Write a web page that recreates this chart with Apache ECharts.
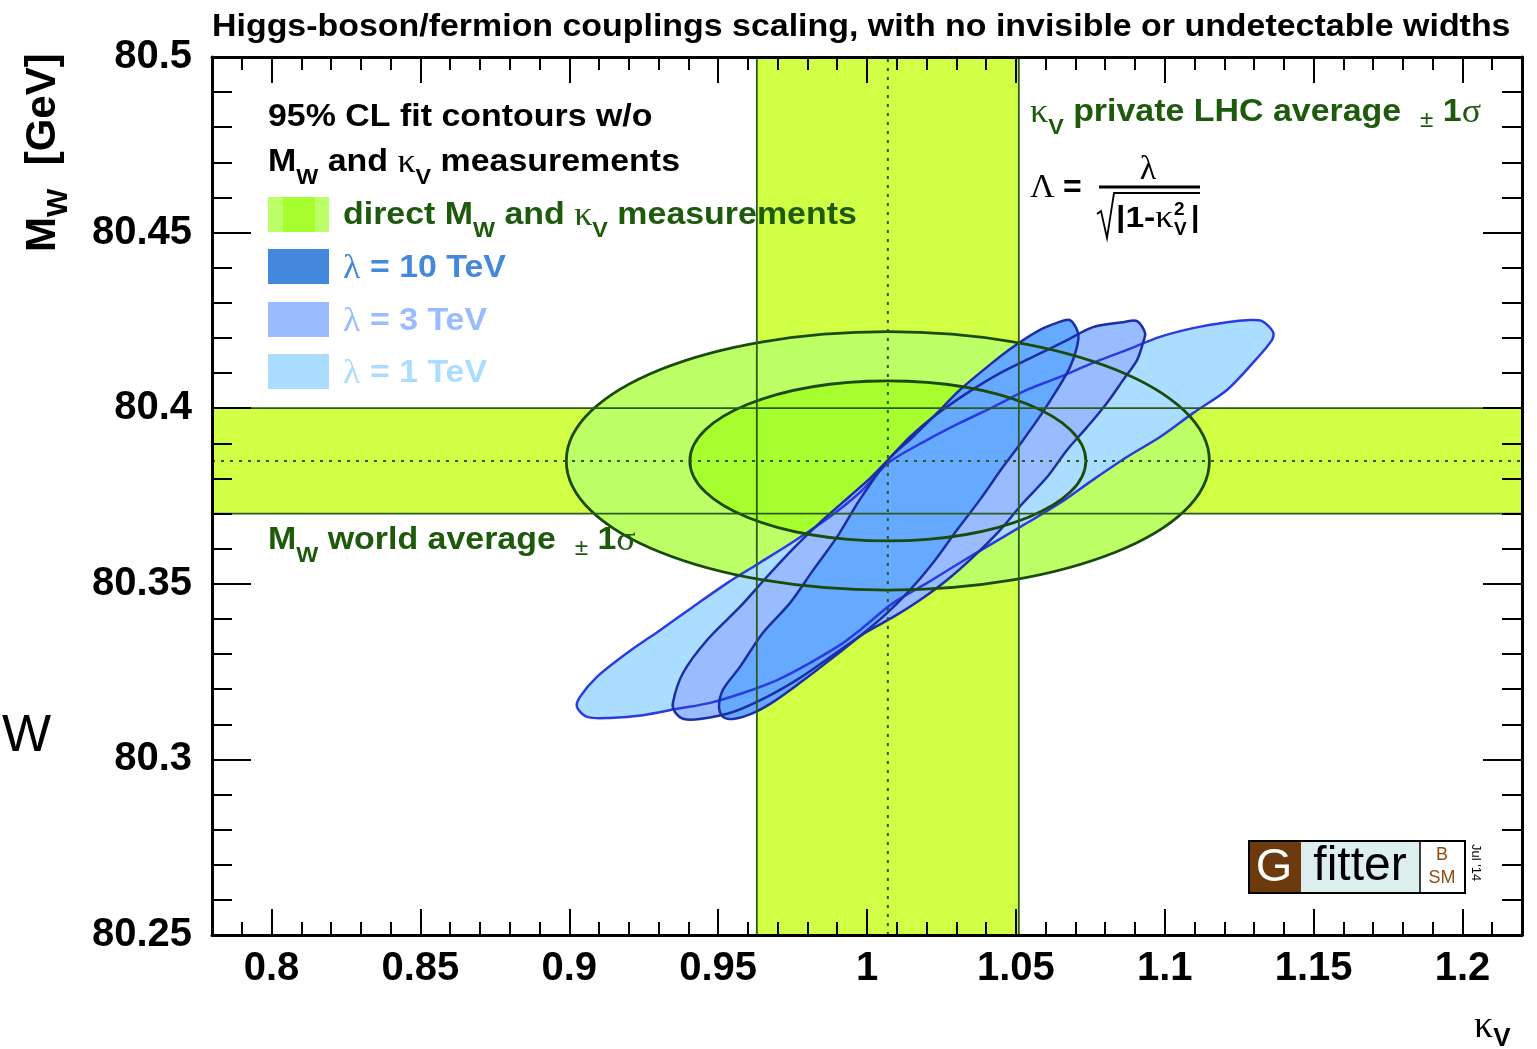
<!DOCTYPE html>
<html>
<head>
<meta charset="utf-8">
<script src="https://cdn.jsdelivr.net/npm/echarts@6/dist/echarts.min.js"></script>
<style>
  html, body { margin: 0; padding: 0; background: #fff; }
  #chart { width: 1537px; height: 1049px; }
</style>
</head>
<body>
<div id="chart"></div>
<script>
// axis ranges
const kvRange = [0.78, 1.22];
const mwRange = [80.25, 80.5];

// kappa_V private LHC average +- 1 sigma
const kvCentral = 1.007;
const kvBand = [0.963, 1.051];
// M_W world average +- 1 sigma
const mwCentral = 80.385;
const mwBand = [80.370, 80.400];

// direct M_W and kappa_V measurements: [kV, MW, kV half width, MW half height]
const directOuter = [1.007, 80.385, 0.108, 0.0368];
const directInner = [1.007, 80.385, 0.0665, 0.0228];

// 95% CL fit contours w/o M_W and kappa_V measurements, [kV, MW]
const lambda10 = [
  [1.0638, 80.4243], [1.0682, 80.4251], [1.0709, 80.4214], [1.0705, 80.4174], [1.0682, 80.4117],
  [1.0638, 80.4052], [1.0588, 80.3986], [1.0524, 80.3909], [1.0457, 80.3833], [1.0379, 80.3739],
  [1.0302, 80.3653], [1.0222, 80.3560], [1.0144, 80.3482], [1.0060, 80.3411], [0.9960, 80.3340],
  [0.9866, 80.3277], [0.9775, 80.3218], [0.9684, 80.3163], [0.9617, 80.3132], [0.9550, 80.3115],
  [0.9516, 80.3121], [0.9503, 80.3149], [0.9516, 80.3198], [0.9573, 80.3263], [0.9650, 80.3360],
  [0.9741, 80.3445], [0.9819, 80.3539], [0.9899, 80.3633], [0.9976, 80.3740], [1.0071, 80.3853],
  [1.0154, 80.3918], [1.0235, 80.3986], [1.0312, 80.4052], [1.0403, 80.4117], [1.0490, 80.4174],
  [1.0581, 80.4223]
];
const lambda3 = [
  [1.0860, 80.4245], [1.0907, 80.4248], [1.0934, 80.4214], [1.0927, 80.4186], [1.0907, 80.4137],
  [1.0860, 80.4080], [1.0806, 80.4015], [1.0739, 80.3946], [1.0672, 80.3881], [1.0605, 80.3804],
  [1.0524, 80.3730], [1.0447, 80.3653], [1.0356, 80.3576], [1.0269, 80.3511], [1.0178, 80.3454],
  [1.0087, 80.3405], [0.9993, 80.3360], [0.9886, 80.3297], [0.9775, 80.3232], [0.9664, 80.3178],
  [0.9550, 80.3135], [0.9439, 80.3115], [0.9385, 80.3115], [0.9355, 80.3135], [0.9348, 80.3161],
  [0.9382, 80.3246], [0.9463, 80.3340], [0.9573, 80.3434], [0.9664, 80.3520], [0.9758, 80.3605],
  [0.9849, 80.3680], [0.9943, 80.3750], [1.0010, 80.3800], [1.0071, 80.3853], [1.0144, 80.3918],
  [1.0222, 80.3975], [1.0336, 80.4043], [1.0447, 80.4100], [1.0557, 80.4146], [1.0672, 80.4194],
  [1.0759, 80.4231]
];
const lambda1 = [
  [1.1209, 80.4245], [1.1286, 80.4251], [1.1327, 80.4248], [1.1364, 80.4217], [1.1360, 80.4194],
  [1.1296, 80.4129], [1.1209, 80.4052], [1.1095, 80.3986], [1.0984, 80.3918], [1.0873, 80.3861],
  [1.0759, 80.3796], [1.0648, 80.3730], [1.0537, 80.3673], [1.0423, 80.3616], [1.0312, 80.3560],
  [1.0201, 80.3502], [1.0087, 80.3445], [0.9976, 80.3368], [0.9919, 80.3331], [0.9809, 80.3275],
  [0.9698, 80.3226], [0.9583, 80.3189], [0.9473, 80.3161], [0.9362, 80.3144], [0.9248, 80.3126],
  [0.9137, 80.3118], [0.9060, 80.3121], [0.9026, 80.3149], [0.9036, 80.3178], [0.9093, 80.3235],
  [0.9194, 80.3303], [0.9305, 80.3368], [0.9415, 80.3434], [0.9530, 80.3502], [0.9640, 80.3560],
  [0.9751, 80.3619], [0.9866, 80.3685], [0.9976, 80.3760], [1.0071, 80.3844], [1.0201, 80.3909],
  [1.0312, 80.3958], [1.0423, 80.4003], [1.0537, 80.4052], [1.0648, 80.4089], [1.0759, 80.4129],
  [1.0873, 80.4166], [1.0984, 80.4203], [1.1095, 80.4228]
];

const FONT = "'Liberation Sans', Arial, Helvetica, sans-serif";
const SERIF = "'Liberation Serif', 'DejaVu Serif', serif";
const GREEN_TXT = '#1d5a0c';
const SX = 1.06; // the reference text is a bit stretched

const ellipses = [directOuter, directInner];
const ellipseFill = ['#bcff66', '#a8ff30'];
const contours = [lambda1, lambda3, lambda10];
const contourFill = ['#aaddff', '#99bbff', '#66aaff'];
const contourLine = ['#2a3be0', '#1c2ea6', '#1c2ea6'];

function rich(color) {
  return {
    b: { fill: color, fontFamily: FONT, fontWeight: 'bold', fontSize: 32, lineHeight: 38, verticalAlign: 'top' },
    g: { fill: color, fontFamily: SERIF, fontSize: 34, lineHeight: 38, verticalAlign: 'top' },
    s: { fill: color, fontFamily: FONT, fontWeight: 'bold', fontSize: 22, lineHeight: 22, padding: [21, 0, 0, 0], verticalAlign: 'top' },
    pm: { fill: color, fontFamily: FONT, fontSize: 23, lineHeight: 23, padding: [13, 0, 0, 0], verticalAlign: 'top' }
  };
}
function label(x, yc, text, color) {
  return { type: 'text', x: x, y: yc - 14, scaleX: SX, z: 100,
    style: { text: text, rich: rich(color), fill: color } };
}
function plain(x, y, text, o) {
  return { type: 'text', x: x, y: y, z: 100, rotation: o.rotation || 0, scaleX: o.scaleX || 1,
    style: { text: text, fill: o.color || '#000', fontFamily: o.family || FONT,
      fontWeight: o.weight || 'normal', fontSize: o.size,
      align: o.align || 'left', verticalAlign: o.valign || 'middle' } };
}

const tickLine = { color: '#000', width: 2 };
function xAxisDef(pos, minor) {
  const a = {
    type: 'value', position: pos, min: kvRange[0], max: kvRange[1], z: 10,
    axisLine: { show: !minor, onZero: false, lineStyle: { color: '#000', width: 3 } },
    axisTick: { inside: true, length: minor ? 13 : 26, lineStyle: tickLine },
    splitLine: { show: false },
    axisLabel: { show: false }
  };
  if (minor) {
    a.interval = 0.01;
  } else {
    a.splitNumber = 9;
    a.minInterval = 0.05;
    a.maxInterval = 0.05;
  }
  if (pos === 'bottom' && !minor) {
    a.axisLabel = {
      show: true, margin: 14, color: '#000', fontFamily: FONT, fontWeight: 'bold', fontSize: 40,
      formatter: v => (Math.abs(v * 20 - Math.round(v * 20)) < 1e-6 ? String(+v.toFixed(2)) : '')
    };
  }
  return a;
}
function yAxisDef(pos) {
  return {
    type: 'value', position: pos, min: mwRange[0], max: mwRange[1], interval: 0.05, z: 10,
    axisLine: { show: true, onZero: false, lineStyle: { color: '#000', width: 3 } },
    axisTick: { inside: true, length: 39, lineStyle: tickLine },
    minorTick: { show: true, splitNumber: 5, length: 20, lineStyle: tickLine },
    splitLine: { show: false },
    axisLabel: pos === 'left'
      ? { show: true, margin: 20, color: '#000', fontFamily: FONT, fontWeight: 'bold', fontSize: 40 }
      : { show: false }
  };
}

const chart = echarts.init(document.getElementById('chart'));

const option = {
  animation: false,
  backgroundColor: '#fff',
  grid: { left: 212, right: 15, top: 57, bottom: 114, containLabel: false, outerBoundsMode: 'none' },
  xAxis: [xAxisDef('bottom', false), xAxisDef('bottom', true), xAxisDef('top', false), xAxisDef('top', true)],
  yAxis: [yAxisDef('left'), yAxisDef('right')],
  series: [
    {
      // +-1 sigma bands
      type: 'custom', name: 'bands', z: 1, silent: true,
      data: [[kvBand[0], mwBand[0]], [kvBand[1], mwBand[1]]],
      renderItem: (params, api) => {
        let p0, p1;
        if (params.dataIndex === 0) {
          p0 = api.coord([kvBand[0], mwRange[1]]); p1 = api.coord([kvBand[1], mwRange[0]]);
        } else {
          p0 = api.coord([kvRange[0], mwBand[1]]); p1 = api.coord([kvRange[1], mwBand[0]]);
        }
        return { type: 'rect', shape: { x: p0[0], y: p0[1], width: p1[0] - p0[0], height: p1[1] - p0[1] },
          style: { fill: '#d0ff45' } };
      }
    },
    {
      type: 'custom', name: 'direct fill', z: 2, silent: true,
      data: ellipses.map(e => [e[0], e[1]]),
      renderItem: (params, api) => {
        const e = ellipses[params.dataIndex];
        const c = api.coord([e[0], e[1]]);
        const s = api.size([e[2], e[3]]);
        return { type: 'ellipse', shape: { cx: c[0], cy: c[1], rx: s[0], ry: s[1] },
          style: { fill: ellipseFill[params.dataIndex] } };
      }
    },
    {
      type: 'custom', name: 'lambda fill', z: 3, silent: true,
      data: contours.map(c => c[0]),
      renderItem: (params, api) => {
        const pts = contours[params.dataIndex].map(p => api.coord(p));
        return { type: 'polygon', shape: { points: pts, smooth: 0.3 },
          style: { fill: contourFill[params.dataIndex] } };
      }
    },
    {
      type: 'custom', name: 'lambda line', z: 4, silent: true,
      data: contours.map(c => c[0]),
      renderItem: (params, api) => {
        const pts = contours[params.dataIndex].map(p => api.coord(p));
        return { type: 'polygon', shape: { points: pts, smooth: 0.3 },
          style: { fill: 'none', stroke: contourLine[params.dataIndex], lineWidth: 2.5 } };
      }
    },
    {
      type: 'custom', name: 'direct line', z: 5, silent: true,
      data: ellipses.map(e => [e[0], e[1]]),
      renderItem: (params, api) => {
        const e = ellipses[params.dataIndex];
        const c = api.coord([e[0], e[1]]);
        const s = api.size([e[2], e[3]]);
        return { type: 'ellipse', shape: { cx: c[0], cy: c[1], rx: s[0], ry: s[1] },
          style: { fill: 'none', stroke: '#1c4a0a', lineWidth: 2.8 } };
      }
    },
    {
      type: 'custom', name: 'guides', z: 6, silent: true,
      data: [[kvCentral, mwCentral]],
      renderItem: (params, api) => {
        const seg = (a, b, dash) => ({ type: 'line', shape: { x1: a[0], y1: a[1], x2: b[0], y2: b[1] },
          style: { stroke: '#2c5a1c', lineWidth: dash ? 2 : 1.8, lineDash: dash ? [3, 6] : null } });
        const vline = (x, dash) => seg(api.coord([x, mwRange[0]]), api.coord([x, mwRange[1]]), dash);
        const hline = (y, dash) => seg(api.coord([kvRange[0], y]), api.coord([kvRange[1], y]), dash);
        return { type: 'group', children: [
          vline(kvBand[0]), vline(kvBand[1]), hline(mwBand[0]), hline(mwBand[1]),
          vline(kvCentral, true), hline(mwCentral, true)
        ] };
      }
    }
  ],
  graphic: [
    plain(212, 27, 'Higgs-boson/fermion couplings scaling, with no invisible or undetectable widths',
      { size: 32, weight: 'bold', scaleX: SX }),
    // y axis title
    { type: 'text', x: 22, y: 252, rotation: Math.PI / 2, z: 100,
      style: { text: '{b|M}{s|W}{b|  [GeV]}', verticalAlign: 'top', rich: {
        b: { fill: '#000', fontFamily: FONT, fontWeight: 'bold', fontSize: 42, lineHeight: 46, verticalAlign: 'top' },
        s: { fill: '#000', fontFamily: FONT, fontWeight: 'bold', fontSize: 30, lineHeight: 30, padding: [22, 0, 0, 0], verticalAlign: 'top' }
      } } },
    plain(2, 737, 'W', { size: 52 }),
    // x axis title
    { type: 'text', x: 1474, y: 1008, z: 100,
      style: { text: '{g|κ}{s|V}', rich: {
        g: { fill: '#000', fontFamily: SERIF, fontSize: 38, lineHeight: 36, verticalAlign: 'top' },
        s: { fill: '#000', fontFamily: FONT, fontWeight: 'bold', fontSize: 26, lineHeight: 26, padding: [18, 0, 0, 0], verticalAlign: 'top' }
      } } },
    // legend
    label(268, 115, '{b|95% CL fit contours w/o}', '#000'),
    label(268, 160, '{b|M}{s|W}{b| and }{g|κ}{s|V}{b| measurements}', '#000'),
    { type: 'rect', shape: { x: 268, y: 197, width: 61, height: 35 }, style: { fill: '#bcff66' }, z: 100 },
    { type: 'rect', shape: { x: 283, y: 197, width: 32, height: 35 }, style: { fill: '#a8ff30' }, z: 100 },
    label(343, 213, '{b|direct M}{s|W}{b| and }{g|κ}{s|V}{b| measurements}', GREEN_TXT),
    { type: 'rect', shape: { x: 268, y: 249, width: 61, height: 35 }, style: { fill: '#4488dd' }, z: 100 },
    label(343, 266, '{g|λ}{b| = 10 TeV}', '#4488dd'),
    { type: 'rect', shape: { x: 268, y: 302, width: 61, height: 35 }, style: { fill: '#99bbff' }, z: 100 },
    label(343, 319, '{g|λ}{b| = 3 TeV}', '#99bbff'),
    { type: 'rect', shape: { x: 268, y: 354, width: 61, height: 35 }, style: { fill: '#aaddff' }, z: 100 },
    label(343, 371, '{g|λ}{b| = 1 TeV}', '#aaddff'),
    // band annotations
    label(1030, 110, '{g|κ}{s|V}{b| private LHC average  }{pm|±}{b| 1}{g|σ}', GREEN_TXT),
    label(268, 538, '{b|M}{s|W}{b| world average  }{pm|±}{b| 1}{g|σ}', GREEN_TXT),
    // Lambda formula
    plain(1030, 188, 'Λ', { size: 34, family: SERIF }),
    plain(1063, 188, '=', { size: 32, weight: 'bold' }),
    plain(1148, 170, 'λ', { size: 34, family: SERIF, align: 'center' }),
    { type: 'line', shape: { x1: 1099, y1: 187, x2: 1200, y2: 187 }, style: { stroke: '#000', lineWidth: 3 }, z: 100 },
    { type: 'polyline', shape: { points: [[1097, 214], [1101, 211], [1107, 238], [1114, 193], [1200, 193]] },
      style: { stroke: '#000', lineWidth: 1.8, fill: 'none' }, z: 100 },
    { type: 'text', x: 1116, y: 219, z: 100, scaleX: 1.12,
      style: { text: '{b||1-}{g|κ}', verticalAlign: 'middle', rich: {
        b: { fill: '#000', fontFamily: FONT, fontWeight: 'bold', fontSize: 30 },
        g: { fill: '#000', fontFamily: SERIF, fontSize: 32 }
      } } },
    plain(1174, 210, '2', { size: 19, weight: 'bold' }),
    plain(1174, 230, 'V', { size: 19, weight: 'bold' }),
    plain(1191, 219, '|', { size: 30, weight: 'bold' }),
    // Gfitter logo
    { type: 'rect', shape: { x: 1249, y: 841, width: 52, height: 52 }, style: { fill: '#6c3a0c' }, z: 100 },
    { type: 'rect', shape: { x: 1301, y: 841, width: 119, height: 52 }, style: { fill: '#ddeeee' }, z: 100 },
    { type: 'rect', shape: { x: 1420, y: 841, width: 45, height: 52 }, style: { fill: '#fff' }, z: 100 },
    { type: 'rect', shape: { x: 1249, y: 841, width: 216, height: 52 }, style: { fill: 'none', stroke: '#000', lineWidth: 2 }, z: 101 },
    { type: 'line', shape: { x1: 1420, y1: 841, x2: 1420, y2: 893 }, style: { stroke: '#000', lineWidth: 1.5 }, z: 101 },
    plain(1274, 868, 'G', { size: 47, color: '#fff', align: 'center' }),
    plain(1360, 867, 'fitter', { size: 48, align: 'center' }),
    plain(1442, 855, 'B', { size: 18, color: '#8c4d14', align: 'center' }),
    plain(1442, 878, 'SM', { size: 18, color: '#8c4d14', align: 'center' }),
    plain(1476, 844, "Jul '14", { size: 13, rotation: -Math.PI / 2 })
  ]
};

chart.setOption(option);
</script>
</body>
</html>
